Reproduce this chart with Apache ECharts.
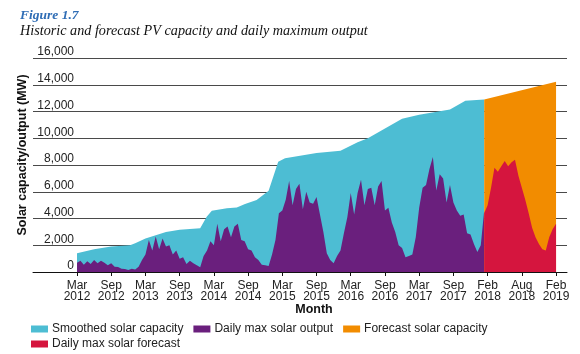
<!DOCTYPE html>
<html>
<head>
<meta charset="utf-8">
<script src="https://cdn.jsdelivr.net/npm/echarts@6/dist/echarts.min.js"></script>
<style>
  html, body { margin: 0; padding: 0; background: #fff; }
  #chart { width: 580px; height: 354px; }
</style>
</head>
<body>
<div id="chart"></div>
<script>
// x is measured in half-year steps from Mar 2012 (tick index)
var xTickLabels = ['Mar\n2012', 'Sep\n2012', 'Mar\n2013', 'Sep\n2013', 'Mar\n2014', 'Sep\n2014', 'Mar\n2015',
  'Sep\n2015', 'Mar\n2016', 'Sep\n2016', 'Mar\n2017', 'Sep\n2017', 'Feb\n2018', 'Aug\n2018', 'Feb\n2019'];
var xTicks = [0, 1, 2, 3, 4, 5, 6, 7, 8, 9, 10, 11, 12, 13, 14];

// smoothed capacity, [x, MW]
var capacity = [[0, 1400], [0.5, 1700], [1, 1900], [1.55, 2000], [1.7, 2150], [2.0, 2500], [2.6, 3000],
  [3.0, 3150], [3.6, 3270], [3.79, 4140], [3.94, 4580], [4.38, 4760], [4.67, 4830], [4.91, 5080],
  [5.25, 5380], [5.6, 6080], [5.88, 8250], [6.08, 8500], [7.0, 8900], [7.7, 9070], [8.2, 9700],
  [8.5, 10000], [9.5, 11450], [10.0, 11750], [10.9, 12150], [11.35, 12800], [11.9, 12900]];

// forecast capacity, [x, MW]
var forecastCap = [[11.9, 12900], [14.0, 14230]];

// daily max output, one value every 0.1 step from x = 0
var outputStep = 0.1;
var output = [700, 850, 550, 800, 600, 900, 650, 850, 700, 500,
  650, 400, 380, 250, 220, 150, 250, 180, 400, 900,
  1300, 2400, 1600, 2650, 1700, 2500, 1900, 2000, 1300, 1600,
  1000, 1100, 600, 850, 650, 500, 350, 1200, 1600, 2300,
  2000, 3600, 2300, 3200, 3400, 2600, 3400, 3600, 2400, 2300,
  1700, 1600, 1100, 900, 550, 500, 450, 1300, 2400, 4400,
  4600, 5400, 6800, 5000, 6200, 6600, 4700, 6000, 5200, 5100,
  5600, 4300, 3000, 1400, 900, 650, 1200, 1600, 2900, 4100,
  5900, 4300, 5900, 6900, 5000, 6200, 6300, 5000, 6400, 6800,
  4600, 4800, 3700, 3000, 2000, 1800, 1100, 1200, 1300, 2600,
  4800, 6300, 6500, 7700, 8600, 6100, 7300, 7000, 5200, 6500,
  5200, 4600, 4200, 4300, 2900, 2800, 2100, 1500, 2000, 4600];

// daily max forecast, one value every 0.1 step from x = 11.9
var forecastStart = 11.9;
var forecastOut = [4400, 5000, 6300, 7800, 7500, 7900, 8300, 7900, 8200, 8400,
  7200, 6300, 5400, 4400, 3300, 2600, 2100, 1700, 1600, 2600, 3200, 3600];

function toPairs(start, step, vals) {
  return vals.map(function (v, i) { return [+(start + i * step).toFixed(2), v]; });
}

var chart = echarts.init(document.getElementById('chart'));
var font = 'Liberation Sans, Arial, sans-serif';

function area(name, color, data, z) {
  return {
    name: name, type: 'line', data: data, z: z,
    showSymbol: false, symbol: 'none',
    lineStyle: { width: 0 },
    itemStyle: { color: color },
    areaStyle: { color: color, opacity: 1 }
  };
}

var legendBase = {
  icon: 'rect', itemWidth: 17, itemHeight: 7, itemGap: 10,
  textStyle: { fontFamily: font, fontSize: 12, color: '#222', padding: [0, 0, 0, -1] },
  selectedMode: false
};

var option = {
  backgroundColor: '#fff',
  animation: false,
  title: {
    text: 'Figure 1.7',
    subtext: 'Historic and forecast PV capacity and daily maximum output',
    left: 15, top: 4, itemGap: 1,
    textStyle: { fontFamily: 'Liberation Serif, serif', fontStyle: 'italic', fontWeight: 'bold', fontSize: 13.5, color: '#2f6db5' },
    subtextStyle: { fontFamily: 'Liberation Serif, serif', fontStyle: 'italic', fontSize: 14.2, color: '#111' }
  },
  legend: [
    Object.assign({}, legendBase, { left: 26, top: 318, data: ['Smoothed solar capacity', 'Daily max solar output', 'Forecast solar capacity'] }),
    Object.assign({}, legendBase, { left: 26, top: 333, data: ['Daily max solar forecast'] })
  ],
  grid: { left: 33, right: 13, top: 58, bottom: 82 },
  xAxis: {
    type: 'value',
    min: -1.286, max: 14.32,
    splitLine: { show: false },
    axisLine: { lineStyle: { color: '#111', width: 1 } },
    axisTick: { length: 4, customValues: xTicks, lineStyle: { color: '#111' } },
    axisLabel: {
      customValues: xTicks, margin: 8,
      fontFamily: font, fontSize: 12, lineHeight: 11, color: '#222',
      formatter: function (v) { return xTickLabels[Math.round(v)]; }
    }
  },
  yAxis: {
    type: 'value', min: 0, max: 16000, interval: 2000,
    axisLine: { show: false },
    axisTick: { show: false },
    splitLine: { lineStyle: { color: '#4a4a4a', width: 1 } },
    axisLabel: {
      inside: true, margin: 41, align: 'right', verticalAlign: 'bottom',
      fontFamily: font, fontSize: 12, color: '#222',
      formatter: function (v) { return echarts.format.addCommas(v); }
    }
  },
  graphic: [
    { type: 'text', x: 23, y: 155, rotation: Math.PI / 2,
      style: { text: 'Solar capacity/output (MW)', font: 'bold 12.5px ' + font, fill: '#111', align: 'center', verticalAlign: 'middle' } },
    { type: 'text', x: 314, y: 310,
      style: { text: 'Month', font: 'bold 12.5px ' + font, fill: '#111', align: 'center', verticalAlign: 'middle' } }
  ],
  series: [
    area('Smoothed solar capacity', '#4dbdd3', capacity, 1),
    area('Daily max solar output', '#6a1f7d', toPairs(0, outputStep, output), 2),
    area('Forecast solar capacity', '#f28c00', forecastCap, 1),
    area('Daily max solar forecast', '#d5153e', toPairs(forecastStart, outputStep, forecastOut), 2)
  ]
};

chart.setOption(option);
window.onresize = function () { chart.resize(); };
</script>
</body>
</html>
